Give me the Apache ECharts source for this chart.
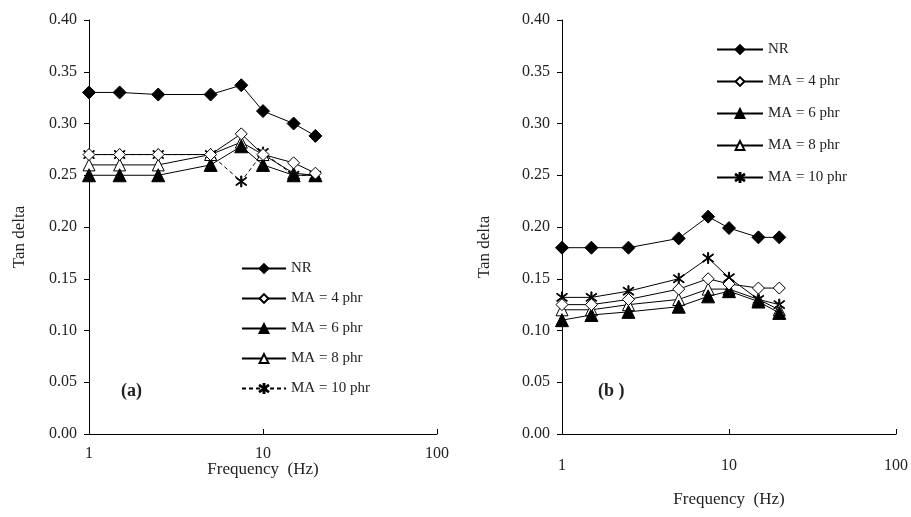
<!DOCTYPE html>
<html><head><meta charset="utf-8">
<script src="https://cdn.jsdelivr.net/npm/echarts@6/dist/echarts.min.js"></script>
<style>html,body{margin:0;padding:0;background:#fff}#c{width:911px;height:517px}</style>
</head><body><div id="c"></div>
<script>
const freqs = [1, 1.5, 2.5, 5, 7.5, 10, 15, 20];
const seriesNames = ['NR', 'MA = 4 phr', 'MA = 6 phr', 'MA = 8 phr', 'MA = 10 phr'];
const yTicks = [0, 0.05, 0.10, 0.15, 0.20, 0.25, 0.30, 0.35, 0.40];
const xTicks = [1, 10, 100];
// Panel (a)
const a_NR   = [0.330, 0.330, 0.328, 0.328, 0.337, 0.312, 0.300, 0.288];
const a_MA4  = [0.270, 0.270, 0.270, 0.270, 0.290, 0.270, 0.262, 0.252];
const a_MA6  = [0.250, 0.250, 0.250, 0.260, 0.278, 0.260, 0.250, 0.250];
const a_MA8  = [0.260, 0.260, 0.260, 0.270, 0.282, 0.270, 0.252, 0.250];
const a_MA10 = [0.270, 0.270, 0.270, 0.270, 0.244, 0.272, 0.250, 0.250];
// Panel (b)
const b_NR   = [0.180, 0.180, 0.180, 0.189, 0.210, 0.199, 0.190, 0.190];
const b_MA4  = [0.125, 0.125, 0.130, 0.140, 0.150, 0.145, 0.141, 0.141];
const b_MA6  = [0.110, 0.115, 0.118, 0.123, 0.133, 0.138, 0.128, 0.117];
const b_MA8  = [0.120, 0.120, 0.125, 0.130, 0.140, 0.140, 0.130, 0.120];
const b_MA10 = [0.132, 0.132, 0.138, 0.150, 0.170, 0.151, 0.130, 0.125];

const FONT = 'Liberation Serif';
// panel (b) series carry an invisible trailing space so each legend shows its own panel's line style
const namesA = seriesNames.slice();
const namesB = seriesNames.map(n => n + ' ');
const star = 'path://M-0.9,-10 L0.9,-10 L0.9,10 L-0.9,10 Z M-9,-6.2 L-8.1,-7.6 L9,6.2 L8.1,7.6 Z M-9,6.2 L-8.1,7.6 L9,-6.2 L8.1,-7.6 Z';
const styles = [
  {symbol: 'diamond', symbolSize: 13, fill: '#000'},
  {symbol: 'diamond', symbolSize: 12, fill: '#fff'},
  {symbol: 'triangle', symbolSize: 13, fill: '#000'},
  {symbol: 'triangle', symbolSize: 12, fill: '#fff'},
  {symbol: star, symbolSize: 11, fill: '#000'}
];
function pairs(vals){ return freqs.map((f,i)=>[f, vals[i]]); }
function mk(idx, vals, k, dashed){
  const s = styles[k];
  return {
    type: 'line', name: (idx === 0 ? namesA : namesB)[k], xAxisIndex: idx, yAxisIndex: idx,
    data: pairs(vals), symbol: s.symbol, symbolSize: s.symbolSize,
    lineStyle: {color: '#000', width: 1, type: dashed ? [4,3] : 'solid'},
    itemStyle: {color: s.fill, borderColor: '#000', borderWidth: 1},
    z: 5 - k, animation: false
  };
}
function xAx(idx, gap, margin){
  return {
    gridIndex: idx, type: 'log', logBase: 10, min: 1, max: 100,
    name: 'Frequency  (Hz)', nameLocation: 'middle', nameGap: gap, nameMoveOverlap: false,
    nameTextStyle: {fontFamily: FONT, fontSize: 17, color: '#222'},
    axisLine: {lineStyle: {color: '#000', width: 1}},
    axisTick: {inside: true, length: 5, lineStyle: {color: '#000'}},
    minorTick: {show: false}, splitLine: {show: false},
    axisLabel: {fontFamily: FONT, fontSize: 16, color: '#222', margin: margin,
      formatter: v => xTicks.indexOf(Math.round(v)) >= 0 ? String(Math.round(v)) : ''}
  };
}
function yAx(idx){
  return {
    gridIndex: idx, type: 'value', min: 0, max: 0.4, interval: 0.05,
    axisLine: {show: true, lineStyle: {color: '#000', width: 1}},
    axisTick: {show: true, inside: false, length: 5, lineStyle: {color: '#000'}},
    splitLine: {show: false},
    axisLabel: {fontFamily: FONT, fontSize: 16, color: '#222', margin: 12,
      formatter: v => v.toFixed(2)}
  };
}
const chart = echarts.init(document.getElementById('c'), null, {renderer: 'canvas'});
chart.setOption({
  animation: false,
  backgroundColor: '#fff',
  grid: [
    {left: 89, top: 20, width: 348, height: 414, outerBoundsMode: 'none', containLabel: false},
    {left: 562, top: 20, width: 334, height: 414, outerBoundsMode: 'none', containLabel: false}
  ],
  xAxis: [xAx(0, 27, 12), xAx(1, 57, 24)],
  yAxis: [yAx(0), yAx(1)],
  legend: [
    {left: 236, top: 256, orient: 'vertical', itemWidth: 44, itemHeight: 11, itemGap: 15,
     data: namesA, selectedMode: false,
     textStyle: {fontFamily: FONT, fontSize: 15, color: '#222'}},
    {left: 711, top: 37, orient: 'vertical', itemWidth: 46, itemHeight: 11, itemGap: 17,
     data: namesB, selectedMode: false,
     textStyle: {fontFamily: FONT, fontSize: 15, color: '#222'}}
  ],
  graphic: [
    {type: 'text', x: 20, y: 237, rotation: Math.PI / 2,
     style: {text: 'Tan delta', font: '17px "Liberation Serif"', fill: '#222', align: 'center', verticalAlign: 'middle'}},
    {type: 'text', x: 485, y: 247, rotation: Math.PI / 2,
     style: {text: 'Tan delta', font: '17px "Liberation Serif"', fill: '#222', align: 'center', verticalAlign: 'middle'}},
    {type: 'text', left: 121, top: 382, style: {text: '(a)', font: 'bold 18px "Liberation Serif"', fill: '#222'}},
    {type: 'text', left: 598, top: 382, style: {text: '(b )', font: 'bold 18px "Liberation Serif"', fill: '#222'}}
  ],
  series: [
    mk(0, a_NR, 0, false), mk(0, a_MA4, 1, false), mk(0, a_MA6, 2, false), mk(0, a_MA8, 3, false), mk(0, a_MA10, 4, true),
    mk(1, b_NR, 0, false), mk(1, b_MA4, 1, false), mk(1, b_MA6, 2, false), mk(1, b_MA8, 3, false), mk(1, b_MA10, 4, false)
  ]
});
</script></body></html>
